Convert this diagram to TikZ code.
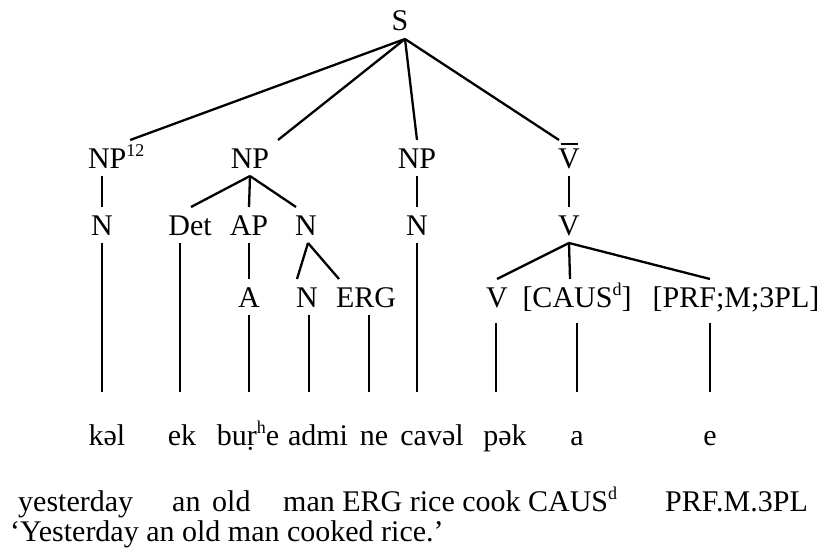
\documentclass[tikz,border=0pt]{standalone}
\usepackage{fontspec}
\setmainfont{Liberation Serif}
% small raised marks (indices, aspiration, diacritic letters)
\newcommand\sups[1]{\raisebox{12pt}{\fontsize{18}{20}\selectfont #1}}
% V with a heavy bar over it
\newcommand\barV{\makebox[0pt][l]{\hspace{2.5pt}\raisebox{23.5pt}{\rule{17pt}{2pt}}}V}
\begin{document}
\begin{tikzpicture}[x=1pt,y=-1pt,
  every node/.style={font=\fontsize{30}{36}\selectfont},
  cat/.style={anchor=base, inner sep=0pt, outer xsep=0pt, outer ysep=8pt,
              text height=20pt, text depth=0pt},
  deep/.style={cat, text depth=8pt},
  word/.style={anchor=base, inner sep=0pt, outer sep=0pt,
               text height=53pt, text depth=0pt},
  gloss/.style={anchor=base west, inner sep=0pt},
  branch/.style={line width=2.3pt}]
\useasboundingbox (0,0) rectangle (829,559);

% root and phrase level
\node[cat] (S) at (400,31) {S};
\node[cat, anchor=base west] (NPa) at (88,168) {NP\sups{12}};
\node[cat] (NPb) at (250,168) {NP};
\node[cat] (NPc) at (417,168) {NP};
\node[cat] (Vb) at (569,168) {\barV};

% word class level
\node[cat] (Na) at (102,235) {N};
\node[cat] (Det) at (190,235) {Det};
\node[cat] (AP) at (249,235) {AP};
\node[cat] (Nb) at (306,235) {N};
\node[cat] (Nc) at (417,235) {N};
\node[cat] (V) at (569,235) {V};

% morpheme level
\node[cat] (A) at (249,307) {A};
\node[cat] (Nd) at (307,307) {N};
\node[cat] (Erg) at (366,307) {ERG};
\node[deep] (Vv) at (497,307) {V};
\node[deep] (Caus) at (577,307) {[CAUS\sups{d}]};
\node[deep] (Prf) at (736,307) {[PRF;M;3PL]};

% surface forms
\node[word] (kel) at (107,445) {kəl};
\node[word] (ek) at (182,445) {ek};
\node[word] (bur) at (248,445) {buṛ\sups{h}e};
\node[word] (admi) at (318,445) {admi};
\node[word] (ne) at (374,445) {ne};
\node[word] (cavel) at (432,445) {cavəl};
\node[word] (pek) at (505,445) {pək};
\node[word] (a) at (577,445) {a};
\node[word] (e) at (710,445) {e};

% gloss line and free translation
\node[gloss] (g1) at (18,511) {yesterday};
\node[gloss] (g2) at (172,511) {an};
\node[gloss] (g3) at (212,511) {old};
\node[gloss] (g4) at (283,511) {man ERG rice cook CAUS\sups{d}};
\node[gloss] (g5) at (665,511) {PRF.M.3PL};
\node[gloss] (tr) at (10,541) {‘Yesterday an old man cooked rice.’};

% branches from S
\draw[branch] ([xshift=5pt]S.south) -- ([xshift=14pt]NPa.north);
\draw[branch] ([xshift=5pt]S.south) -- ([xshift=28pt]NPb.north);
\draw[branch] ([xshift=5pt]S.south) -- (NPc.north);
\draw[branch] ([xshift=5pt]S.south) -- ([xshift=-10pt]Vb.north);

% phrase to word class
\draw[branch] (Na.north |- NPa.south) -- (Na.north);
\draw[branch] (NPb.south) -- ([xshift=1pt]Det.north);
\draw[branch] (NPb.south) -- (AP.north);
\draw[branch] (NPb.south) -- ([xshift=-10pt]Nb.north);
\draw[branch] (NPc.south) -- (Nc.north);
\draw[branch] (Vb.south) -- (V.north);

% word class to morphemes
\draw[branch] (AP.south) -- (A.north);
\draw[branch] ([xshift=2pt]Nb.south) -- ([xshift=-10pt]Nd.north);
\draw[branch] ([xshift=2pt]Nb.south) -- ([xshift=-27pt]Erg.north);
\draw[branch] (V.south) -- (Vv.north);
\draw[branch] (V.south) -- ([xshift=-7pt]Caus.north);
\draw[branch] (V.south) -- ([xshift=-26pt]Prf.north);

% down to the surface forms
\draw[branch] (Na.south) -- (Na.south |- kel.north);
\draw[branch] ([xshift=-10pt]Det.south) -- ([xshift=-10pt]Det.south |- ek.north);
\draw[branch] (A.south) -- (A.south |- bur.north);
\draw[branch] ([xshift=2pt]Nd.south) -- ([xshift=2pt]Nd.south |- admi.north);
\draw[branch] ([xshift=3pt]Erg.south) -- ([xshift=3pt]Erg.south |- ne.north);
\draw[branch] (Nc.south) -- (Nc.south |- cavel.north);
\draw[branch] ([xshift=-1pt]Vv.south) -- ([xshift=-1pt]Vv.south |- pek.north);
\draw[branch] (Caus.south) -- (Caus.south |- a.north);
\draw[branch] ([xshift=-26pt]Prf.south) -- ([xshift=-26pt]Prf.south |- e.north);
\end{tikzpicture}
\end{document}
